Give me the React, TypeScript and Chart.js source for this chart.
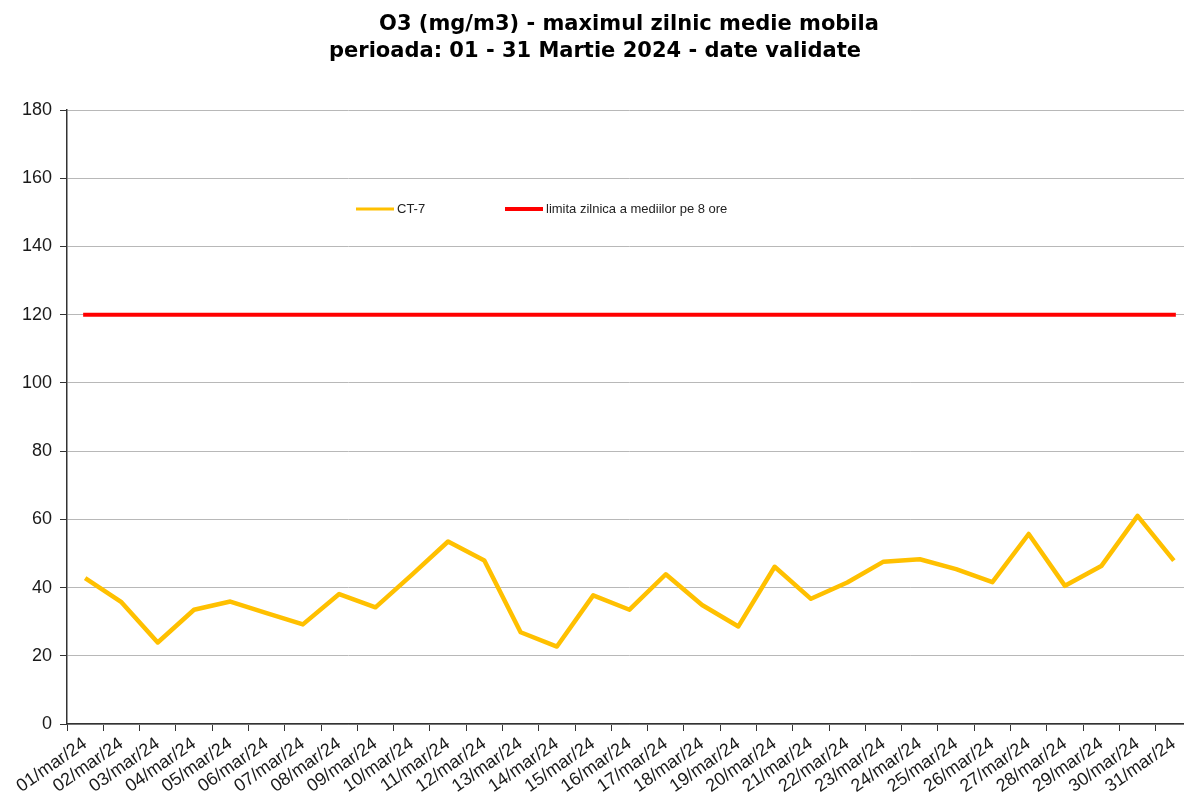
import React, { useEffect, useRef } from "react";
import { Chart, registerables } from "chart.js";

Chart.register(...registerables);

const categories = [
  "01/mar/24", "02/mar/24", "03/mar/24", "04/mar/24", "05/mar/24", "06/mar/24",
  "07/mar/24", "08/mar/24", "09/mar/24", "10/mar/24", "11/mar/24", "12/mar/24",
  "13/mar/24", "14/mar/24", "15/mar/24", "16/mar/24", "17/mar/24", "18/mar/24",
  "19/mar/24", "20/mar/24", "21/mar/24", "22/mar/24", "23/mar/24", "24/mar/24",
  "25/mar/24", "26/mar/24", "27/mar/24", "28/mar/24", "29/mar/24", "30/mar/24",
  "31/mar/24",
];

const ct7Values = [
  42.8, 35.7, 23.9, 33.5, 35.9, 32.5, 29.2, 38.1, 34.2, 43.7, 53.5, 47.9,
  26.9, 22.7, 37.7, 33.5, 43.9, 34.9, 28.6, 46.1, 36.7, 41.5, 47.6, 48.3,
  45.4, 41.6, 55.7, 40.5, 46.3, 61.0, 47.9,
];

const limitValues = [
  120, 120, 120, 120, 120, 120, 120, 120, 120, 120, 120, 120, 120, 120, 120, 120,
  120, 120, 120, 120, 120, 120, 120, 120, 120, 120, 120, 120, 120, 120, 120,
];

const seriesLabels = ["CT-7", "limita zilnica a mediilor pe 8 ore"];
const seriesColors = ["#FFC000", "#FF0000"];

const titleLines = [
  "O3 (mg/m3) - maximul zilnic medie mobila",
  "perioada: 01 - 31 Martie 2024 - date validate",
];

const yMin = 0;
const yMax = 180;
const yStep = 20;

export default function App() {
  const canvasRef = useRef<HTMLCanvasElement | null>(null);

  useEffect(() => {
    document.body.style.margin = "0";
    const canvas = canvasRef.current;
    if (!canvas) return;

    const titlePlugin = {
      id: "customTitle",
      afterDraw(chart: any) {
        const ctx = chart.ctx;
        ctx.save();
        ctx.fillStyle = "#000";
        ctx.font = "bold 21px 'DejaVu Sans'";
        ctx.textAlign = "center";
        ctx.textBaseline = "alphabetic";
        ctx.fillText(titleLines[0], 629, 30);
        ctx.fillText(titleLines[1], 595, 57);
        ctx.restore();
      },
    };

    const legendPlugin = {
      id: "customLegend",
      afterDraw(chart: any) {
        const ctx = chart.ctx;
        const xs = [356, 505];
        const widths = [3, 4];
        const y = 209;
        ctx.save();
        chart.data.datasets.forEach((ds: any, i: number) => {
          ctx.strokeStyle = ds.borderColor;
          ctx.lineWidth = widths[i];
          ctx.beginPath();
          ctx.moveTo(xs[i], y);
          ctx.lineTo(xs[i] + 38, y);
          ctx.stroke();
          ctx.fillStyle = "#222";
          ctx.font = "13px 'Liberation Sans', Arial";
          ctx.textAlign = "left";
          ctx.textBaseline = "middle";
          ctx.fillText(ds.label, xs[i] + 41, y);
        });
        ctx.restore();
      },
    };

    const chart = new Chart(canvas, {
      type: "line",
      data: {
        labels: categories,
        datasets: [
          {
            label: seriesLabels[0],
            data: ct7Values,
            borderColor: seriesColors[0],
            backgroundColor: seriesColors[0],
            borderWidth: 4.5,
            pointRadius: 0,
            tension: 0,
            borderJoinStyle: "round",
            order: 1,
          },
          {
            label: seriesLabels[1],
            data: limitValues,
            borderColor: seriesColors[1],
            backgroundColor: seriesColors[1],
            borderWidth: 4,
            pointRadius: 0,
            tension: 0,
            borderCapStyle: "square",
            order: 0,
          },
        ],
      },
      options: {
        animation: false,
        responsive: false,
        devicePixelRatio: 1,
        layout: { padding: { top: 110, left: 0, right: 8, bottom: 0 } },
        plugins: {
          legend: { display: false },
          title: { display: false },
          tooltip: { enabled: false },
        },
        scales: {
          x: {
            type: "category",
            offset: true,
            grid: {
              offset: true,
              drawOnChartArea: false,
              drawTicks: true,
              tickLength: 7,
              tickColor: "#333",
              tickWidth: 1,
            },
            border: { display: true, color: "#333", width: 1.5 },
            ticks: {
              autoSkip: false,
              maxRotation: 35,
              minRotation: 35,
              padding: 2,
              color: "#1a1a1a",
              font: { family: "'Liberation Sans', Arial", size: 18 },
            },
            afterFit(scale: any) {
              scale.height = 80;
            },
          },
          y: {
            min: yMin,
            max: yMax,
            ticks: {
              stepSize: yStep,
              padding: 8,
              color: "#1a1a1a",
              font: { family: "'Liberation Sans', Arial", size: 18 },
            },
            grid: {
              color: "#b8b8b8",
              lineWidth: 1,
              borderDash: [1, 1],
              tickLength: 7,
              tickColor: "#333",
              tickBorderDash: [],
              tickWidth: 1,
            },
            border: { display: true, color: "#333", width: 1.5 },
            afterFit(scale: any) {
              scale.width = 67;
            },
          },
        },
      },
      plugins: [titlePlugin, legendPlugin],
    } as any);

    return () => {
      chart.destroy();
    };
  }, []);

  return (
    <div style={{ width: 1184, height: 804, overflow: "hidden", position: "relative", background: "#fff" }}>
      <canvas ref={canvasRef} width={1200} height={804} style={{ display: "block" }} />
    </div>
  );
}
